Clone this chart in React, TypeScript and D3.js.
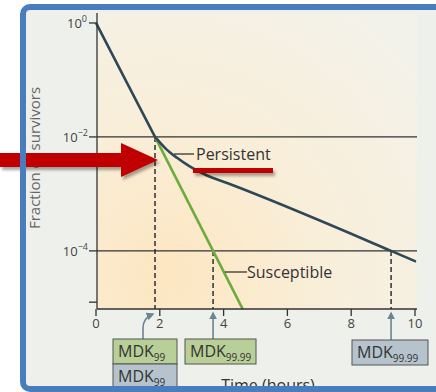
import React from 'react';
import * as d3 from 'd3';

// ---- data ----
const persistentHours = [0, 1, 1.85, 2.2, 2.54, 2.95, 3.48, 4.11, 9.25, 10];
const persistentFraction = [1, 0.083, 0.01, 0.0061, 0.0043, 0.003, 0.0021, 0.00155, 1e-4, 6.6e-5];
const susceptibleHours = [1.85, 4.6];
const susceptibleFraction = [0.01, 9.5e-6];
const xTicks = [0, 2, 4, 6, 8, 10];
const yTickExps = [0, -2, -4];
const mdkHours = [1.85, 3.67, 9.25];
const mdkLevels = [1e-2, 1e-4, 1e-4];

const W = 436, H = 392;
const FONT = '"Open Sans", "DejaVu Sans", sans-serif';

export default function App() {
  const x = d3.scaleLinear().domain([0, 10]).range([96, 415]);
  const y = d3.scaleLog().domain([Math.pow(10, 0.175), Math.pow(10, -5.02)]).range([13, 309]);
  const xLeft = 97, xRight = 417, yTop = 13, yBottom = 309;

  const pts: [number, number][] = persistentHours.map((h, i) => [h, persistentFraction[i]]);
  const straight = d3.line<[number, number]>().x(d => x(d[0])).y(d => y(d[1]));
  const smooth = d3.line<[number, number]>().x(d => x(d[0])).y(d => y(d[1])).curve(d3.curveMonotoneX);
  const persistentA = straight(pts.slice(0, 3));
  const persistentB = smooth(pts.slice(2));
  const susceptible = straight(susceptibleHours.map((h, i) => [h, susceptibleFraction[i]] as [number, number]));

  const gray = '#eef0ec';
  const axisCol = '#333';
  const arrowCol = '#6b8594';

  const boxes = [
    { x: 113, y: 339, w: 64, fill: '#b9cf98', sub: '99' },
    { x: 113, y: 364, w: 64, fill: '#b6c3cc', sub: '99' },
    { x: 185, y: 339, w: 71, fill: '#b9cf98', sub: '99.99' },
    { x: 352, y: 340, w: 76, fill: '#b6c3cc', sub: '99.99' },
  ];

  return (
    <svg width={W} height={H} style={{ position: 'absolute', left: 0, top: 0, display: 'block' }} fontFamily={FONT}>
      <defs>
        <radialGradient id="bg" gradientUnits="userSpaceOnUse" cx={165} cy={275} r={330}>
          <stop offset="0" stopColor="#fde6c1" />
          <stop offset="0.45" stopColor="#f9eed8" />
          <stop offset="1" stopColor="#f3f2ea" />
        </radialGradient>
        <filter id="shadow" x="-10%" y="-30%" width="130%" height="180%">
          <feDropShadow dx="2" dy="3" stdDeviation="1.8" floodColor="#000" floodOpacity="0.35" />
        </filter>
        <marker id="ah" viewBox="0 0 10 10" refX="8" refY="5" markerWidth="5" markerHeight="5" orient="auto">
          <path d="M0,0 L10,5 L0,10 z" fill={arrowCol} />
        </marker>
      </defs>
      <rect x={0} y={0} width={W} height={H} fill="#fff" />
      <rect x={23} y={7} width={440} height={382} rx={7} fill={gray} />
      <rect x={xLeft} y={yTop} width={xRight - xLeft} height={yBottom - yTop} fill="url(#bg)" />

      {/* grid lines at 10^-2 and 10^-4 */}
      {[-2, -4].map(e => (
        <line key={e} x1={xLeft} x2={xRight} y1={y(Math.pow(10, e))} y2={y(Math.pow(10, e))} stroke={axisCol} strokeWidth={1.3} />
      ))}

      {/* dashed MDK lines */}
      {mdkHours.map((h, i) => (
        <line key={i} x1={x(h)} x2={x(h)} y1={y(mdkLevels[i])} y2={yBottom} stroke="#222" strokeWidth={1.4} strokeDasharray="5,3" />
      ))}

      {/* curves */}
      <path d={susceptible || ''} fill="none" stroke="#6cab3c" strokeWidth={2.6} />
      <path d={persistentA || ''} fill="none" stroke="#2e4857" strokeWidth={2.6} strokeLinejoin="round" />
      <path d={persistentB || ''} fill="none" stroke="#2e4857" strokeWidth={2.6} strokeLinecap="round" />

      {/* axes */}
      <line x1={xLeft} x2={xLeft} y1={yTop} y2={yBottom} stroke={axisCol} strokeWidth={1.3} />
      <line x1={xLeft} x2={xRight} y1={yBottom} y2={yBottom} stroke={axisCol} strokeWidth={1.3} />
      {[...yTickExps.map(e => Math.pow(10, e)), Math.pow(10, -4.9)].map((v, i) => (
        <line key={i} x1={89} x2={xLeft} y1={y(v)} y2={y(v)} stroke={axisCol} strokeWidth={1.3} />
      ))}
      {yTickExps.map(e => (
        <text key={e} x={e === 0 ? 87 : 88} y={y(Math.pow(10, e)) + 5} textAnchor="end" fontSize={13} fill="#444">
          10<tspan fontSize={9} dy={-6}>{e === 0 ? '0' : '\u2212' + Math.abs(e)}</tspan>
        </text>
      ))}
      {xTicks.map(t => (
        <g key={t}>
          <line x1={x(t)} x2={x(t)} y1={yBottom} y2={yBottom + 7} stroke={axisCol} strokeWidth={1.3} />
          <text x={x(t)} y={yBottom + 19} textAnchor="middle" fontSize={13} fill="#444">{t}</text>
        </g>
      ))}

      {/* y label */}
      <text transform="translate(40,158) rotate(-90)" textAnchor="middle" fontSize={15} fill="#666">Fraction of survivors</text>

      {/* curve labels */}
      <line x1={174} x2={194} y1={154} y2={154} stroke="#333" strokeWidth={1.3} />
      <text x={196} y={160} fontSize={16} fill="#333">Persistent</text>
      <line x1={225} x2={247} y1={272} y2={272} stroke="#333" strokeWidth={1.3} />
      <text x={247} y={278} fontSize={16} fill="#333">Susceptible</text>

      {/* MDK arrows */}
      <path d={`M143,339 L143,328 Q143,318 ${x(mdkHours[0]) - 2},314`} fill="none" stroke={arrowCol} strokeWidth={1.6} markerEnd="url(#ah)" />
      <line x1={x(mdkHours[1])} x2={x(mdkHours[1])} y1={339} y2={313} stroke={arrowCol} strokeWidth={1.6} markerEnd="url(#ah)" />
      <line x1={x(mdkHours[2])} x2={x(mdkHours[2])} y1={340} y2={313} stroke={arrowCol} strokeWidth={1.6} markerEnd="url(#ah)" />

      {/* MDK boxes */}
      {boxes.map((b, i) => (
        <g key={i}>
          <rect x={b.x} y={b.y} width={b.w} height={25} fill={b.fill} stroke="#555" strokeWidth={1} />
          <text x={b.x + 5} y={b.y + 18} fontSize={16} fill="#333">
            MDK<tspan fontSize={10} dy={4}>{b.sub}</tspan>
          </text>
        </g>
      ))}

      {/* x label */}
      <text x={268} y={391} textAnchor="middle" fontSize={16} fill="#333">Time (hours)</text>

      {/* red emphasis */}
      <g filter="url(#shadow)">
        <path d="M0,153 L121,153 L121,143 L158,160 L121,177 L121,167 L0,167 Z" fill="#c00000" />
        <rect x={193} y={168} width={80} height={5} fill="#c00000" />
      </g>

      {/* frame */}
      <rect x={23} y={7} width={440} height={382} rx={7} fill="none" stroke="#4a7dbd" strokeWidth={6} />
    </svg>
  );
}
